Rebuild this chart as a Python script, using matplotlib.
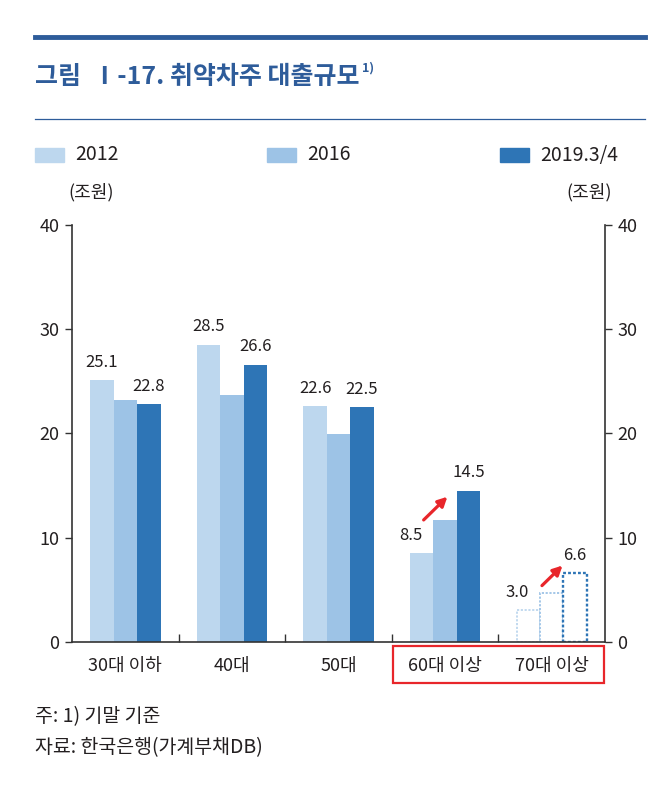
import matplotlib
matplotlib.use("Agg")
import matplotlib.pyplot as plt
from matplotlib.patches import Rectangle
from matplotlib.lines import Line2D

plt.rcParams['font.family'] = ['Noto Sans CJK KR', 'DejaVu Sans']

# 데이터
categories = ["30대 이하", "40대", "50대", "60대 이상", "70대 이상"]
series_names = ["2012", "2016", "2019.3/4"]
v2012 = [25.1, 28.5, 22.6, 8.5, 3.0]
v2016 = [23.2, 23.7, 19.9, 11.7, 4.7]
v2019 = [22.8, 26.6, 22.5, 14.5, 6.6]
yticks = [0, 10, 20, 30, 40]

colors = ["#BDD7EE", "#9DC3E6", "#2E75B6"]
navy = "#2E5C9A"
txt = "#231F20"
red = "#E8262B"

fig = plt.figure(figsize=(6.7, 7.96), dpi=100)
ax = fig.add_axes([0.1075, 0.1938, 0.7955, 0.5237])

w = 0.22
offsets = [-w, 0, w]
all_vals = [v2012, v2016, v2019]
for s, (vals, off, c) in enumerate(zip(all_vals, offsets, colors)):
    for i, v in enumerate(vals):
        x = i + off
        if i == 4:
            # 추정치: 점선 테두리
            ax.bar(x, v, w, facecolor="white", edgecolor=c, linestyle=(0, (1.2, 0.9)),
                   linewidth=1.7 if s == 2 else 1.3)
        else:
            ax.bar(x, v, w, color=c, edgecolor="none")

# 데이터 레이블
for i in range(5):
    dx = -0.1 if i >= 3 else 0
    ax.text(i - w + dx, v2012[i] + 0.9, f"{v2012[i]:.1f}", ha="center", va="bottom",
            fontsize=12, color=txt)
for i in range(5):
    ax.text(i + w, v2019[i] + 0.9, f"{v2019[i]:.1f}", ha="center", va="bottom",
            fontsize=12, color=txt)

# 빨간 화살표
arrow_kw = dict(arrowstyle="-|>,head_length=0.55,head_width=0.28", color=red, lw=2.3)
ax.annotate("", xy=(3.04, 14.1), xytext=(2.78, 11.5), arrowprops=arrow_kw)
ax.annotate("", xy=(4.12, 7.5), xytext=(3.89, 5.2), arrowprops=arrow_kw)

ax.set_xlim(-0.5, 4.5)
ax.set_ylim(0, 40)
ax.set_yticks(yticks)
ax.set_yticklabels([str(t) for t in yticks], fontsize=13, color=txt)
ax.tick_params(axis="y", direction="out", length=5, width=1, right=True,
               labelright=True, pad=4, color="#333333")
ax.set_xticks(range(5))
ax.set_xticklabels(categories, fontsize=13, color=txt)
ax.set_xticks([0.5, 1.5, 2.5, 3.5], minor=True)
ax.tick_params(axis="x", which="major", length=0, pad=11)
ax.tick_params(axis="x", which="minor", direction="in", length=6, width=1, color="#333333")
ax.spines["top"].set_visible(False)
for sp in ["left", "right", "bottom"]:
    ax.spines[sp].set_color("#333333")
    ax.spines[sp].set_linewidth(1.2)

# 빨간 박스
fig.patches.append(Rectangle((393 / 670, 1 - 683 / 796), 211 / 670, 37 / 796,
                             transform=fig.transFigure, fill=False, edgecolor=red, lw=1.6))

# 제목 영역
fig.lines.append(Line2D([35 / 670, 645 / 670], [1 - 37 / 796] * 2, transform=fig.transFigure,
                        color=navy, lw=3.5))
fig.lines.append(Line2D([35 / 670, 645 / 670], [1 - 119 / 796] * 2, transform=fig.transFigure,
                        color=navy, lw=0.9))
title = fig.text(35 / 670, 1 - 77 / 796, "그림  Ⅰ-17. 취약차주 대출규모", fontsize=18,
                 fontweight="bold", color=navy, va="center", ha="left")
fig.canvas.draw()
bb = title.get_window_extent()
fig.text(bb.x1 / fig.bbox.width + 0.003, 1 - 68 / 796, "1)", fontsize=9, fontweight="bold",
         color=navy, va="center", ha="left")

# 범례
leg_x = [35, 267, 500]
for name, c, lx in zip(series_names, colors, leg_x):
    fig.patches.append(Rectangle((lx / 670, 1 - 162 / 796), 29 / 670, 14 / 796,
                                 transform=fig.transFigure, color=c))
    fig.text((lx + 40) / 670, 1 - 155 / 796, name, fontsize=14, color=txt, va="center",
             ha="left")

fig.text(91 / 670, 1 - 192 / 796, "(조원)", fontsize=13, color=txt, va="center", ha="center")
fig.text(589 / 670, 1 - 192 / 796, "(조원)", fontsize=13, color=txt, va="center", ha="center")

# 주석
fig.text(35 / 670, 1 - 717 / 796, "주: 1) 기말 기준", fontsize=14, color=txt, va="center")
fig.text(35 / 670, 1 - 748 / 796, "자료: 한국은행(가계부채DB)", fontsize=14, color=txt, va="center")

fig.savefig("out.png", dpi=100)
